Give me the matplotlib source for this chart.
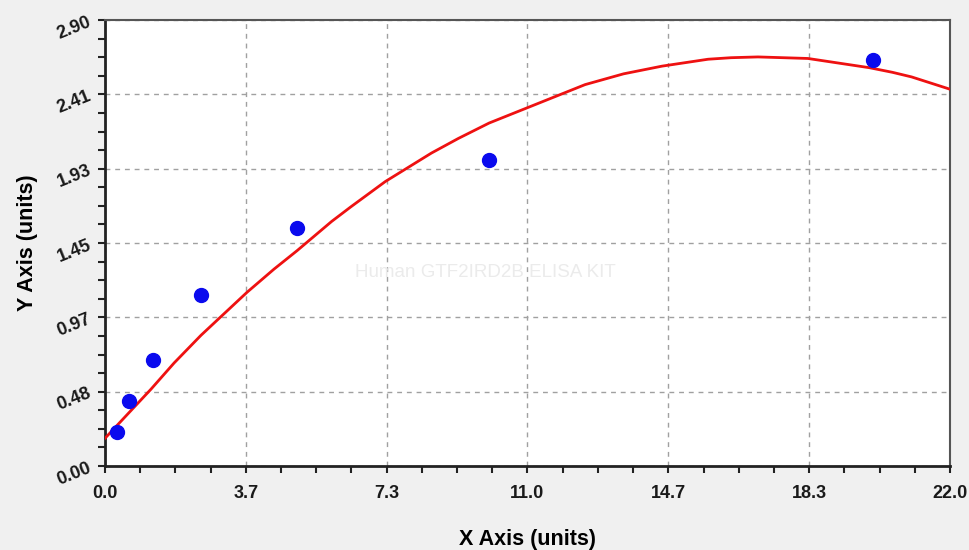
import numpy as np
import matplotlib.pyplot as plt
from matplotlib.ticker import AutoMinorLocator

# Standard points (concentration vs OD)
conc = [0.31, 0.63, 1.25, 2.5, 5.0, 10.0, 20.0]
od = [0.22, 0.42, 0.69, 1.11, 1.55, 1.99, 2.64]

# Fitted curve
curve_x = [0.0, 0.6, 1.2, 1.8, 2.5, 3.7, 4.4, 5.0, 5.9, 6.4, 7.3, 8.5, 9.2, 10.0,
           11.0, 12.5, 13.5, 14.5, 15.7, 16.3, 17.0, 18.3, 19.9, 20.5, 21.0, 22.0]
curve_y = [0.18, 0.34, 0.50, 0.67, 0.85, 1.13, 1.28, 1.40, 1.59, 1.685, 1.85, 2.035, 2.13, 2.23,
           2.33, 2.48, 2.55, 2.60, 2.645, 2.655, 2.66, 2.65, 2.59, 2.56, 2.53, 2.45]

xticks = [0.0, 3.7, 7.3, 11.0, 14.7, 18.3, 22.0]
yticks = [0.00, 0.48, 0.97, 1.45, 1.93, 2.41, 2.90]

plt.rcParams['font.family'] = ['Liberation Sans', 'DejaVu Sans']

fig = plt.figure(figsize=(9.7, 5.5), dpi=100, facecolor='#f0f0f0')
ax = fig.add_axes([0.1082, 0.1527, 0.8712, 0.8109])
ax.set_facecolor('white')

ax.plot(curve_x, curve_y, color='#ee1111', lw=2.0, zorder=3)
ax.plot(conc, od, 'o', color='#0a0aee', ms=10, zorder=4)

ax.set_xlim(0, 22.0)
ax.set_ylim(0, 2.90)
ax.set_xticks(np.linspace(0, 22.0, 7))
ax.set_xticklabels([f'{v:.1f}' for v in xticks])
ax.set_yticks(np.linspace(0, 2.90, 7))
ax.set_yticklabels([f'{v:.2f}' for v in yticks], rotation=22)
ax.xaxis.set_minor_locator(AutoMinorLocator(4))
ax.yaxis.set_minor_locator(AutoMinorLocator(4))

ax.grid(True, which='major', ls=(0, (3.5, 3.5)), color='#a0a0a0', lw=1)
ax.set_axisbelow(True)

ax.tick_params(which='both', direction='out', length=5, width=1.5, color='#222222')
ax.tick_params(axis='x', labelsize=13, pad=9)
ax.tick_params(axis='y', labelsize=13, pad=3)
for lbl in ax.get_xticklabels() + ax.get_yticklabels():
    lbl.set_fontweight('bold')
    lbl.set_color('#1a1a1a')

for side in ['left', 'bottom']:
    ax.spines[side].set_linewidth(2)
    ax.spines[side].set_color('#222222')
for side in ['top', 'right']:
    ax.spines[side].set_linewidth(1.5)
    ax.spines[side].set_color('#555555')

ax.set_xlabel('X Axis (units)', fontsize=15.5, fontweight='bold', labelpad=19)
ax.set_ylabel('Y Axis (units)', fontsize=15.5, fontweight='bold', labelpad=12)

ax.text(0.45, 0.435, 'Human GTF2IRD2B ELISA KIT', transform=ax.transAxes,
        ha='center', va='center', fontsize=13.5, color='#ebebeb', zorder=2)

fig.savefig('out.png', dpi=100, facecolor=fig.get_facecolor())
